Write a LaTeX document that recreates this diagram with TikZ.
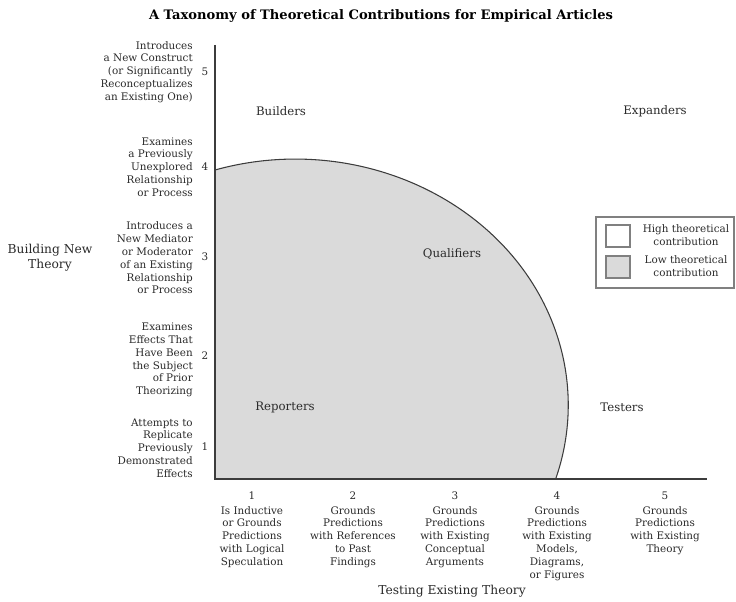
\documentclass[tikz,border=0pt]{standalone}
\usepackage{fontspec}
\usepackage{xcolor}
\setmainfont{DejaVu Serif}
\definecolor{lowfill}{HTML}{DADADA}
\definecolor{axisgray}{HTML}{3C3C3C}
\definecolor{inkgray}{HTML}{2A2A2A}
\begin{document}
\begin{tikzpicture}[x=0.75pt,y=0.75pt,yscale=-1,xscale=1,
    ticktxt/.style={font=\fontsize{7.8}{9.6}\selectfont,inner sep=0.75pt,text=inkgray},
    ticknum/.style={font=\fontsize{7.8}{9}\selectfont,inner sep=0.75pt,text=inkgray},
    regionlbl/.style={font=\fontsize{8.8}{10}\selectfont,inner sep=0.75pt,text=inkgray},
    axistitle/.style={font=\fontsize{9.2}{11.5}\selectfont,align=center,inner sep=0.75pt,text=inkgray},
    legbox/.style={draw=gray,line width=0.9,minimum width=18pt,minimum height=16.5pt,inner sep=0pt}]
\useasboundingbox (0,0) rectangle (736,602);

%Title
\node (title) at (381,16) [font=\bfseries\fontsize{9.8}{11}\selectfont,inner sep=0.75pt] {A Taxonomy of Theoretical Contributions for Empirical Articles};

%Shape: low contribution area
\fill [lowfill] (215,170) arc [start angle=-107.1,end angle=17.5,x radius=273,y radius=246] -- (215,479) -- cycle ;
\draw [axisgray,line width=0.8] (215,170) arc [start angle=-107.1,end angle=17.5,x radius=273,y radius=246] ;

%Axes
\coordinate (ytop) at (215,45);
\coordinate (orig) at (215,479);
\coordinate (xend) at (707,479);
\draw [axisgray,line width=1.1] (ytop) -- (orig) -- (xend) ;

% Text Node
\node (builders) at (281,111) [regionlbl] {Builders};
% Text Node
\node (expanders) at (655,111) [regionlbl] {Expanders};
% Text Node
\node (qualifiers) at (452,254) [regionlbl] {Qualifiers};
% Text Node
\node (reporters) at (285,407) [regionlbl] {Reporters};
% Text Node
\node (testers) at (622,407) [regionlbl] {Testers};

%Vertical axis ticks
\node (yt5) at (205,72) [ticknum] {5};
\node (yl5) at (194,72) [ticktxt,anchor=east,align=right] {Introduces\\a New Construct\\(or Significantly\\Reconceptualizes\\an Existing One)};
\node (yt4) at (205,167) [ticknum] {4};
\node (yl4) at (194,167) [ticktxt,anchor=east,align=right] {Examines\\a Previously\\Unexplored\\Relationship\\or Process};
\node (yt3) at (205,257) [ticknum] {3};
\node (yl3) at (194,258) [ticktxt,anchor=east,align=right] {Introduces a\\New Mediator\\or Moderator\\of an Existing\\Relationship\\or Process};
\node (yt2) at (205,356) [ticknum] {2};
\node (yl2) at (194,360) [ticktxt,anchor=east,align=right] {Examines\\Effects That\\Have Been\\the Subject\\of Prior\\Theorizing};
\node (yt1) at (205,447) [ticknum] {1};
\node (yl1) at (194,448) [ticktxt,anchor=east,align=right] {Attempts to\\Replicate\\Previously\\Demonstrated\\Effects};

% Text Node
\node (ytitle) at (50,258) [axistitle] {Building New\\Theory};

%Horizontal axis ticks
\node (xt1) at (252,496) [ticknum] {1};
\node (xl1) at (252,505) [ticktxt,anchor=north,align=center] {Is Inductive\\or Grounds\\Predictions\\with Logical\\Speculation};
\node (xt2) at (353,496) [ticknum] {2};
\node (xl2) at (353,505) [ticktxt,anchor=north,align=center] {Grounds\\Predictions\\with References\\to Past\\Findings};
\node (xt3) at (455,496) [ticknum] {3};
\node (xl3) at (455,505) [ticktxt,anchor=north,align=center] {Grounds\\Predictions\\with Existing\\Conceptual\\Arguments};
\node (xt4) at (557,496) [ticknum] {4};
\node (xl4) at (557,505) [ticktxt,anchor=north,align=center] {Grounds\\Predictions\\with Existing\\Models,\\Diagrams,\\or Figures};
\node (xt5) at (665,496) [ticknum] {5};
\node (xl5) at (665,505) [ticktxt,anchor=north,align=center] {Grounds\\Predictions\\with Existing\\Theory};

% Text Node
\node (xtitle) at (452,591) [axistitle] {Testing Existing Theory};

%Legend
\draw [gray,line width=0.9] (596,217) rectangle (734,288) ;
\node (hibox) at (618,236) [legbox,fill=white] {};
\node (lobox) at (618,267) [legbox,fill=lowfill] {};
\node (hitxt) at (686,235) [ticktxt,align=center] {High theoretical\\contribution};
\node (lotxt) at (686,266) [ticktxt,align=center] {Low theoretical\\contribution};

\end{tikzpicture}
\end{document}
